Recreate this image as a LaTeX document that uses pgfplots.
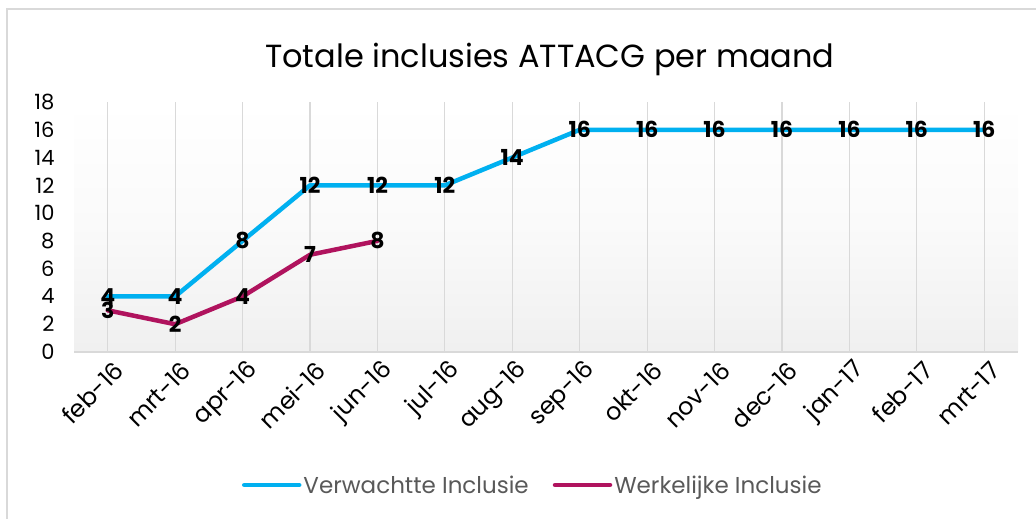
\documentclass[border=0pt]{standalone}
\usepackage{pgfplots}
\pgfplotsset{compat=1.18}
\usepackage{fontspec}
\setmainfont{Poppins}
\definecolor{cblue}{HTML}{00B0F0}
\definecolor{cmag}{HTML}{B0135E}
\definecolor{cgrid}{HTML}{D9D9D9}
\definecolor{ctext}{HTML}{595959}
\begin{document}
\begin{tikzpicture}[x=1pt,y=1pt]
\path[use as bounding box] (0,0) rectangle (1036,519);
\draw[cgrid, line width=1.5pt] (7,-5) -- (7,510) -- (1045,510);
\begin{axis}[
  at={(74pt,167pt)}, anchor=south west,
  scale only axis, width=944pt, height=250pt,
  xmin=-0.5, xmax=13.5, ymin=0, ymax=18,
  xtick={0,...,13},
  xticklabels={feb-16,mrt-16,apr-16,mei-16,jun-16,jul-16,aug-16,sep-16,okt-16,nov-16,dec-16,jan-17,feb-17,mrt-17},
  ytick={0,2,...,18},
  /pgf/number format/assume math mode=true,
  axis x line*=bottom, axis y line*=left,
  x axis line style={cgrid, line width=1.5pt, -},
  y axis line style={draw=none},
  major tick length=0pt,
  xmajorgrids, grid style={cgrid, line width=1.2pt},
  ymajorgrids=false,
  xticklabel style={font=\fontsize{24}{26}\selectfont, text=black, rotate=45, anchor=east, inner sep=1pt, yshift=-18pt, xshift=-1pt},
  yticklabel style={font=\fontsize{21}{23}\selectfont, text=black, anchor=east, xshift=-16pt},
  title={Totale inclusies ATTACG per maand},
  title style={at={(0.504,1.148)}, anchor=center, font=\fontsize{32}{36}\selectfont},
  axis background/.style={top color=white, bottom color=black!6, middle color=black!2},
  nodes near coords,
  nodes near coords style={anchor=center, font=\fontsize{22}{24}\selectfont\bfseries, text=black},
  legend columns=2,
  legend style={at={(0.486,-0.532)}, anchor=center, draw=none, fill=none,
    font=\fontsize{23}{25}\selectfont, text=ctext,
    /tikz/every even column/.append style={column sep=22pt}},
  legend image code/.code={\draw[#1] (0pt,0pt) -- (55pt,0pt);},
  clip=false,
]
\addplot[cblue, line width=4.5pt, line join=round, line cap=round] coordinates {
(0,4) (1,4) (2,8) (3,12) (4,12) (5,12) (6,14) (7,16) (8,16) (9,16) (10,16) (11,16) (12,16) (13,16)};
\addlegendentry{Verwachtte Inclusie}
\addplot[cmag, line width=4.5pt, line join=round, line cap=round] coordinates {
(0,3) (1,2) (2,4) (3,7) (4,8)};
\addlegendentry{Werkelijke Inclusie}
\end{axis}
\end{tikzpicture}
\end{document}
